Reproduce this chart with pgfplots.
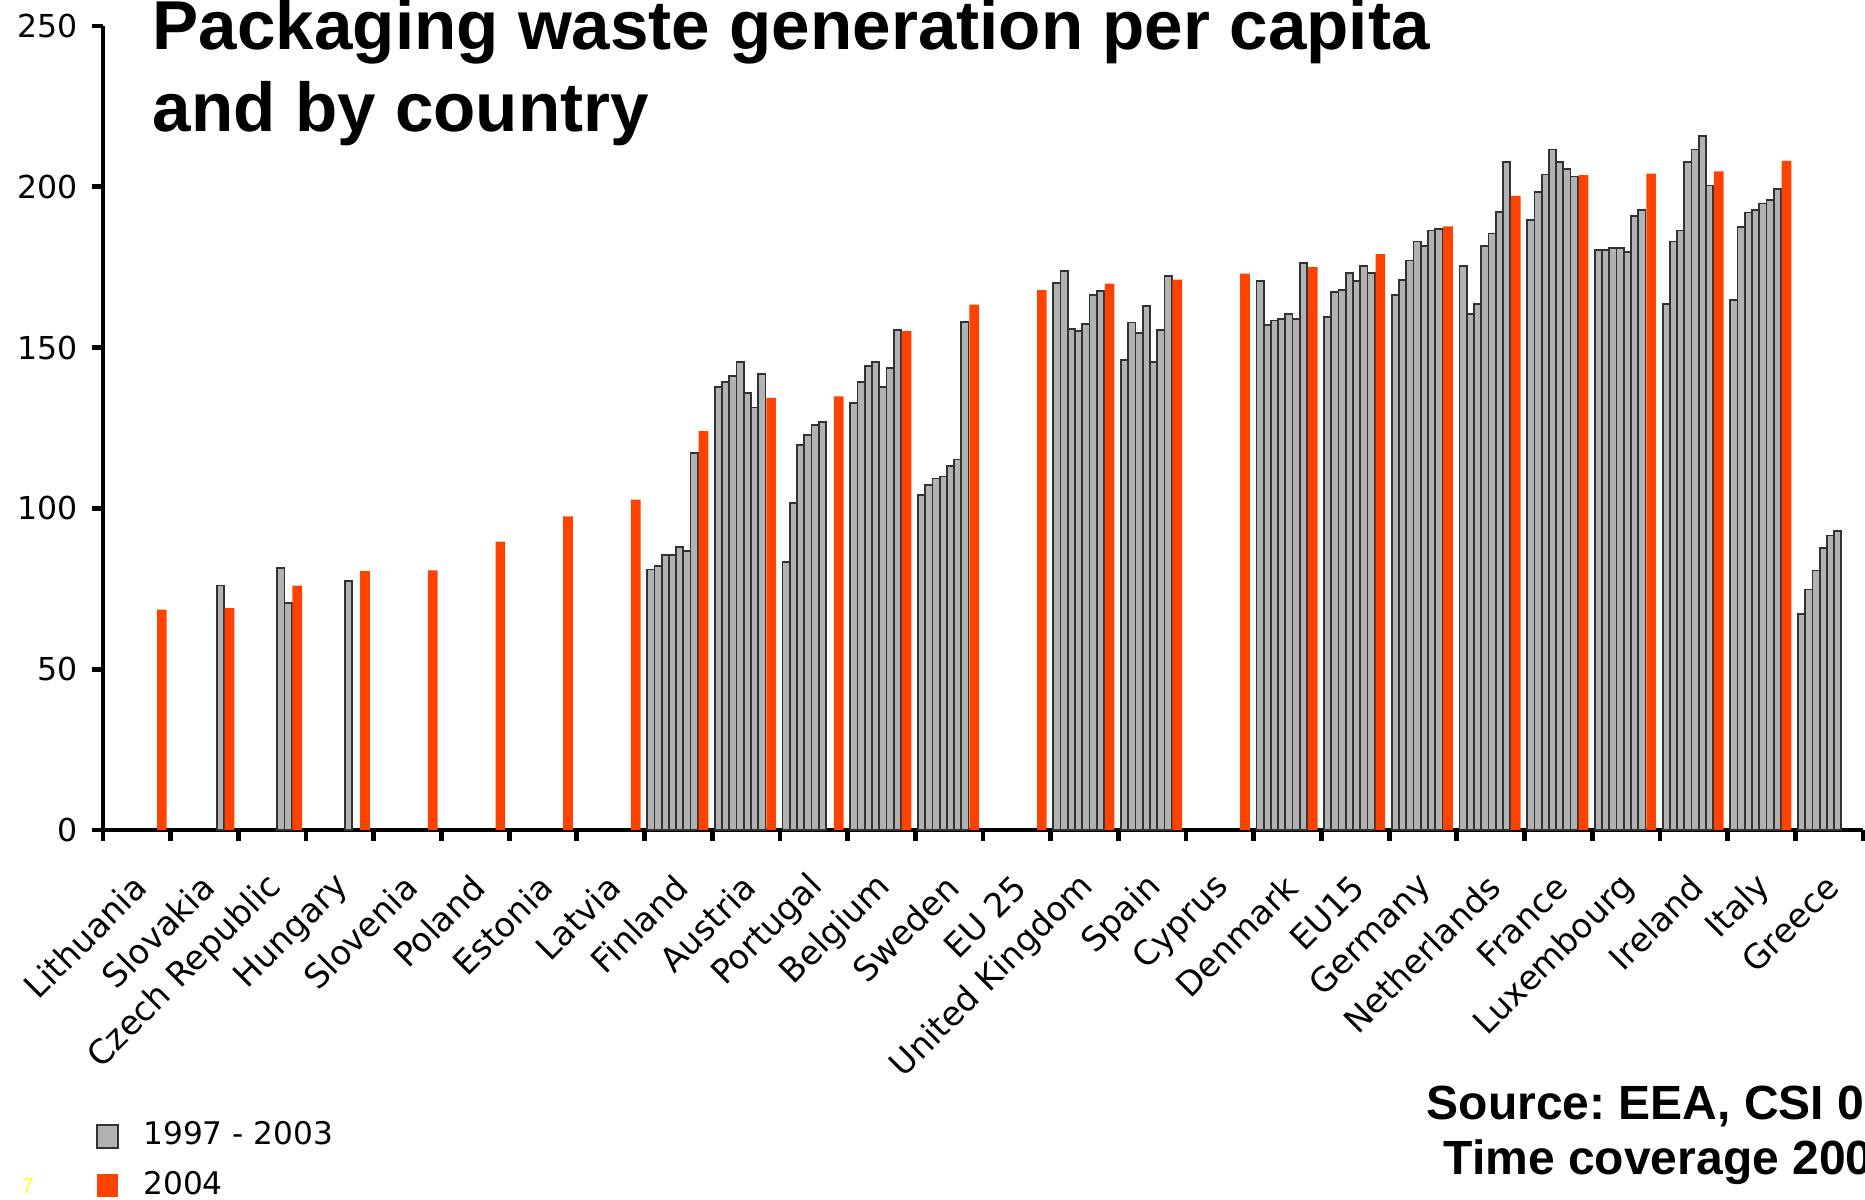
\documentclass[border=0pt]{standalone}
\usepackage{fontspec}
\setmainfont{DejaVu Sans}
\newfontfamily\arialfont{Liberation Sans}
\usepackage{pgfplots}
\pgfplotsset{compat=1.18}
\usepackage{pgfplotstable}
\frenchspacing
\definecolor{barg}{RGB}{178,178,178}
\definecolor{bargedge}{RGB}{50,50,50}
\definecolor{orng}{RGB}{255,66,0}
\definecolor{slideyellow}{RGB}{250,250,60}

\pgfplotstableread{
c   a97    a98    a99    a00    a01    a02    a03    a04
0   nan    nan    nan    nan    nan    nan    nan    68.5
1   nan    nan    nan    nan    nan    nan    76     69
2   nan    nan    nan    nan    nan    81.5   70.5   76
3   nan    nan    nan    nan    nan    77.5   nan    80.5
4   nan    nan    nan    nan    nan    nan    nan    80.7
5   nan    nan    nan    nan    nan    nan    nan    89.7
6   nan    nan    nan    nan    nan    nan    nan    97.5
7   nan    nan    nan    nan    nan    nan    nan    102.7
8   81     82.2   85.4   85.4   88.1   86.7   117.2  124
9   137.8  139.2  141.1  145.5  136    131.4  141.8  134.4
10  83.3   101.6  119.6  122.8  125.9  126.8  nan    134.8
11  132.8  139.2  144.3  145.5  137.8  143.7  155.4  155.1
12  104.1  107.4  109.3  109.9  113.3  115.2  158    163.4
13  nan    nan    nan    nan    nan    nan    nan    167.9
14  170.1  173.9  155.8  155.1  157.3  166.4  167.7  169.9
15  146.1  157.8  154.6  162.9  145.4  155.4  172.2  171.1
16  nan    nan    nan    nan    nan    nan    nan    173
17  170.8  157    158.4  158.9  160.4  158.9  176.4  175
18  159.6  167.4  168    173.3  170.6  175.3  173.3  179.1
19  166.4  170.9  177.1  183    181.7  186.4  186.9  187.7
20  175.3  160.4  163.6  181.7  185.5  192.1  207.7  197.2
21  189.7  198.5  203.8  211.6  207.7  205.6  203.2  203.6
22  180.4  180.4  181    181    179.8  190.8  192.7  204.1
23  163.6  183    186.4  207.6  211.6  215.9  200.4  204.8
24  164.8  187.6  192    192.7  194.8  196    199.3  208.1
25  67.1   74.8   80.7   87.8   91.6   93     nan    nan
}\data

\begin{document}
\begin{tikzpicture}
\useasboundingbox (0pt,0pt) rectangle (466.25pt,300pt);
\begin{axis}[
  at={(25.75pt,92.5pt)}, anchor=south west,
  width=440pt, height=201pt, scale only axis,
  xmin=0, xmax=26, ymin=0, ymax=250,
  axis x line=bottom, axis y line=left,
  axis line style={-, line width=1.2pt, black},
  tick align=outside,
  major tick length=2.8pt,
  every tick/.style={black, line width=1.2pt},
  ytick={0,50,...,250},
  xtick={0,...,26}, xticklabels={},
  extra x ticks={0.5,1.5,...,25.5},
  extra x tick labels={Lithuania,Slovakia,Czech Republic,Hungary,Slovenia,Poland,Estonia,Latvia,Finland,Austria,Portugal,Belgium,Sweden,EU 25,United Kingdom,Spain,Cyprus,Denmark,EU15,Germany,Netherlands,France,Luxembourg,Ireland,Italy,Greece},
  extra x tick style={major tick length=0pt},
  yticklabel style={font=\fontsize{7.9}{9}\selectfont},
  xticklabel style={font=\fontsize{8.4}{10}\selectfont, rotate=45, anchor=east, xshift=-5pt, yshift=-9.7pt},
  /pgf/number format/assume math mode=true,
  legend style={at={(-0.0042,-0.352)}, anchor=north west, draw=none, fill=none,
    font=\fontsize{7.8}{9}\selectfont, row sep=1pt, inner sep=0pt},
  legend cell align=left,
]
\addplot[ybar, bar shift=0pt, bar width=0.1068, fill=barg, draw=bargedge, line width=0.45pt,
  legend image code/.code={\draw[fill=barg, draw=bargedge, line width=0.45pt] (0pt,-2.9pt) rectangle (5.2pt,2.9pt); \path[draw=none, fill=none] (0pt,0pt) rectangle (9.5pt,0.1pt);}]
  table[x expr=\thisrow{c}+0.0928, y=a97] {\data};
\addlegendentry{1997 - 2003}
\addplot[ybar, bar shift=0pt, bar width=0.1068, fill=barg, draw=bargedge, line width=0.45pt, forget plot]
  table[x expr=\thisrow{c}+0.1996, y=a98] {\data};
\addplot[ybar, bar shift=0pt, bar width=0.1068, fill=barg, draw=bargedge, line width=0.45pt, forget plot]
  table[x expr=\thisrow{c}+0.3064, y=a99] {\data};
\addplot[ybar, bar shift=0pt, bar width=0.1068, fill=barg, draw=bargedge, line width=0.45pt, forget plot]
  table[x expr=\thisrow{c}+0.4132, y=a00] {\data};
\addplot[ybar, bar shift=0pt, bar width=0.1068, fill=barg, draw=bargedge, line width=0.45pt, forget plot]
  table[x expr=\thisrow{c}+0.5200, y=a01] {\data};
\addplot[ybar, bar shift=0pt, bar width=0.1068, fill=barg, draw=bargedge, line width=0.45pt, forget plot]
  table[x expr=\thisrow{c}+0.6268, y=a02] {\data};
\addplot[ybar, bar shift=0pt, bar width=0.1068, fill=barg, draw=bargedge, line width=0.45pt, forget plot]
  table[x expr=\thisrow{c}+0.7336, y=a03] {\data};
\addplot[ybar, bar shift=0pt, bar width=0.143, fill=orng, draw=none,
  legend image code/.code={\fill[orng] (0pt,-2.9pt) rectangle (5.2pt,2.9pt); \path[draw=none, fill=none] (0pt,0pt) rectangle (9.5pt,0.1pt);}]
  table[x expr=\thisrow{c}+0.870, y=a04] {\data};
\addlegendentry{2004}
\end{axis}
\node[anchor=base west, inner sep=0pt, font=\arialfont\fontsize{17.3}{20}\selectfont\bfseries] at (38pt,287.5pt) {Packaging waste generation per capita};
\node[anchor=base west, inner sep=0pt, font=\arialfont\fontsize{17.3}{20}\selectfont\bfseries] at (38pt,267.2pt) {and by country};
\node[anchor=base west, inner sep=0pt, font=\arialfont\fontsize{12}{14}\selectfont\bfseries] at (356.5pt,20pt) {Source: EEA, CSI 0};
\node[anchor=base west, inner sep=0pt, font=\arialfont\fontsize{12}{14}\selectfont\bfseries] at (360.75pt,6.25pt) {Time coverage 200};
\node[anchor=base west, inner sep=0pt, text=slideyellow, font=\arialfont\fontsize{5.5}{6}\selectfont] at (5.2pt,1.6pt) {7};
\end{tikzpicture}
\end{document}
